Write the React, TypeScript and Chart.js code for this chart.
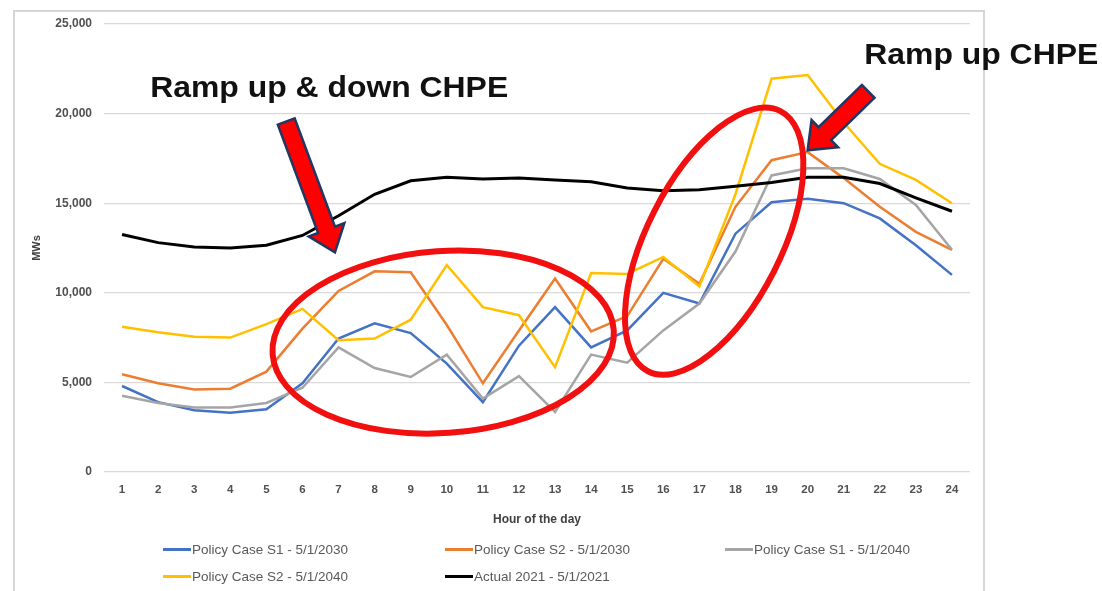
import React, { useEffect, useRef } from "react";
import { Chart, registerables } from "chart.js";

Chart.register(...registerables);

const hours = ["1","2","3","4","5","6","7","8","9","10","11","12","13","14","15","16","17","18","19","20","21","22","23","24"];

const s1_2030 = [4800, 3900, 3450, 3300, 3500, 4950, 7450, 8300, 7750, 6050, 3900, 7050, 9200, 6950, 7900, 10000, 9400, 13300, 15050, 15250, 15000, 14150, 12650, 11000];
const s2_2030 = [5450, 4950, 4600, 4650, 5600, 8000, 10100, 11200, 11150, 8200, 4950, 7900, 10800, 7850, 8700, 11900, 10500, 14800, 17400, 17850, 16400, 14800, 13400, 12400];
const s1_2040 = [4250, 3850, 3600, 3600, 3850, 4700, 6950, 5800, 5300, 6550, 4100, 5350, 3350, 6550, 6100, 7900, 9400, 12300, 16550, 16950, 16950, 16350, 14900, 12400];
const s2_2040 = [8100, 7800, 7550, 7500, 8250, 9100, 7350, 7450, 8500, 11550, 9200, 8750, 5850, 11100, 11050, 12000, 10350, 15500, 21950, 22150, 19500, 17200, 16300, 15000];
const actual2021 = [13250, 12800, 12550, 12500, 12650, 13200, 14300, 15500, 16250, 16450, 16350, 16400, 16300, 16200, 15850, 15700, 15750, 15950, 16150, 16450, 16450, 16100, 15300, 14550];

const seriesNames = [
  "Policy Case S1 - 5/1/2030",
  "Policy Case S2 - 5/1/2030",
  "Policy Case S1 - 5/1/2040",
  "Policy Case S2 - 5/1/2040",
  "Actual 2021 - 5/1/2021",
];
const seriesValues = [s1_2030, s2_2030, s1_2040, s2_2040, actual2021];
const seriesColors = ["#4472C4", "#ED7D31", "#A5A5A5", "#FFC000", "#000000"];

const yTicks = [0, 5000, 10000, 15000, 20000, 25000];

// Annotations (anchored in data units: hour, MW)
const annoTexts = [
  { text: "Ramp up & down CHPE", hour: 1.78, mw: 21400 },
  { text: "Ramp up CHPE", hour: 21.57, mw: 23200 },
];
const annoArrows = [
  { fromHour: 5.55, fromMw: 19560, toHour: 6.9, toMw: 12260 },
  { fromHour: 21.68, fromMw: 21240, toHour: 20.0, toMw: 17950 },
];
const annoEllipses = [
  { hour: 9.9, mw: 7250, rx: 171, ry: 91, angle: -4 },
  { hour: 17.41, mw: 12880, rx: 146, ry: 67, angle: -63 },
];

const annotationPlugin = {
  id: "annotations",
  afterDraw(chart: any) {
    const { ctx, scales } = chart;
    const x = scales.x;
    const y = scales.y;
    const px = (h: number) => x.getPixelForValue(h - 1);
    const py = (v: number) => y.getPixelForValue(v);
    ctx.save();
    // ellipses
    for (const e of annoEllipses) {
      ctx.beginPath();
      ctx.ellipse(px(e.hour), py(e.mw), e.rx, e.ry, (e.angle * Math.PI) / 180, 0, Math.PI * 2);
      ctx.strokeStyle = "#F20F0F";
      ctx.lineWidth = 6;
      ctx.stroke();
    }
    // arrows
    for (const a of annoArrows) {
      const tx = px(a.fromHour), ty = py(a.fromMw);
      const hx = px(a.toHour), hy = py(a.toMw);
      const dx = hx - tx, dy = hy - ty;
      const len = Math.hypot(dx, dy);
      const ux = dx / len, uy = dy / len;
      const nx = -uy, ny = ux;
      const sw = 9, hw = 19, hl = 24;
      const bx = hx - ux * hl, by = hy - uy * hl;
      ctx.beginPath();
      ctx.moveTo(tx + nx * sw, ty + ny * sw);
      ctx.lineTo(bx + nx * sw, by + ny * sw);
      ctx.lineTo(bx + nx * hw, by + ny * hw);
      ctx.lineTo(hx, hy);
      ctx.lineTo(bx - nx * hw, by - ny * hw);
      ctx.lineTo(bx - nx * sw, by - ny * sw);
      ctx.lineTo(tx - nx * sw, ty - ny * sw);
      ctx.closePath();
      ctx.fillStyle = "#FF0000";
      ctx.fill();
      ctx.strokeStyle = "#1F3864";
      ctx.lineWidth = 2.5;
      ctx.lineJoin = "miter";
      ctx.stroke();
    }
    // texts
    for (const t of annoTexts) {
      ctx.save();
      ctx.translate(px(t.hour), py(t.mw));
      ctx.scale(1.1, 1);
      ctx.font = "bold 29px 'Liberation Sans', Arial, sans-serif";
      ctx.fillStyle = "#111111";
      ctx.textAlign = "left";
      ctx.textBaseline = "middle";
      ctx.fillText(t.text, 0, 0);
      ctx.restore();
    }
    ctx.restore();
  },
};

export default function App() {
  const canvasRef = useRef<HTMLCanvasElement | null>(null);

  useEffect(() => {
    if (!canvasRef.current) return;
    const chart = new Chart(canvasRef.current, {
      type: "line",
      data: {
        labels: hours,
        datasets: seriesValues.map((vals, i) => ({
          label: seriesNames[i],
          data: vals,
          borderColor: seriesColors[i],
          backgroundColor: seriesColors[i],
          borderWidth: i === 4 ? 3 : 2.5,
          pointRadius: 0,
          tension: 0,
          fill: false,
          order: 5 - i,
        })),
      },
      options: {
        animation: false,
        responsive: false,
        devicePixelRatio: 1,
        layout: { padding: { left: 0, top: 24, right: 132, bottom: 61 } },
        plugins: {
          legend: { display: false },
          tooltip: { enabled: false },
        },
        scales: {
          x: {
            offset: true,
            grid: { display: false, drawTicks: false },
            border: { display: false },
            ticks: {
              padding: 11,
              color: "#505050",
              font: { family: "'Liberation Sans', Arial, sans-serif", size: 11.5, weight: "bold" },
              maxRotation: 0,
              autoSkip: false,
            },
            title: {
              display: true,
              text: "Hour of the day",
              color: "#404040",
              font: { family: "'Liberation Sans', Arial, sans-serif", size: 12, weight: "bold" },
              padding: { top: 0, bottom: 3 },
            },
            afterFit: (scale: any) => {
              scale.height = 58;
            },
          },
          y: {
            min: 0,
            max: 25000,
            afterBuildTicks: (scale: any) => {
              scale.ticks = yTicks.map((v) => ({ value: v }));
            },
            grid: { color: "#D9D9D9", lineWidth: 1.2, drawTicks: false },
            border: { display: false },
            ticks: {
              padding: 12,
              color: "#505050",
              font: { family: "'Liberation Sans', Arial, sans-serif", size: 12, weight: "bold" },
              callback: (v: any) => Number(v).toLocaleString("en-US"),
            },
            title: {
              display: true,
              text: "MWs",
              color: "#404040",
              font: { family: "'Liberation Sans', Arial, sans-serif", size: 11, weight: "bold" },
              padding: { top: 30, bottom: 0 },
            },
            afterFit: (scale: any) => {
              scale.width = 104;
            },
          },
        },
      },
      plugins: [annotationPlugin],
    });
    return () => chart.destroy();
  }, []);

  const legendCols = [163, 445, 725];
  const legendRows = [549, 576];

  return (
    <div style={{ position: "fixed", left: 0, top: 0, width: 1102, height: 591, background: "#fff", overflow: "hidden" }}>
      <div
        style={{
          position: "absolute",
          left: 13,
          top: 10,
          width: 972,
          height: 620,
          border: "2px solid #D6D6D6",
          boxSizing: "border-box",
        }}
      />
      <canvas ref={canvasRef} width={1102} height={591} style={{ position: "absolute", left: 0, top: 0, width: 1102, height: 591 }} />
      {seriesNames.map((name, i) => {
        const col = legendCols[i % 3];
        const row = legendRows[Math.floor(i / 3)];
        return (
          <div
            key={name}
            style={{
              position: "absolute",
              left: col,
              top: row - 10,
              height: 20,
              display: "flex",
              alignItems: "center",
              whiteSpace: "nowrap",
              fontFamily: "'Liberation Sans', Arial, sans-serif",
              fontSize: 13.5,
              color: "#595959",
            }}
          >
            <span style={{ display: "inline-block", width: 28, height: 3, background: seriesColors[i], marginRight: 1 }} />
            <span>{name}</span>
          </div>
        );
      })}
    </div>
  );
}
